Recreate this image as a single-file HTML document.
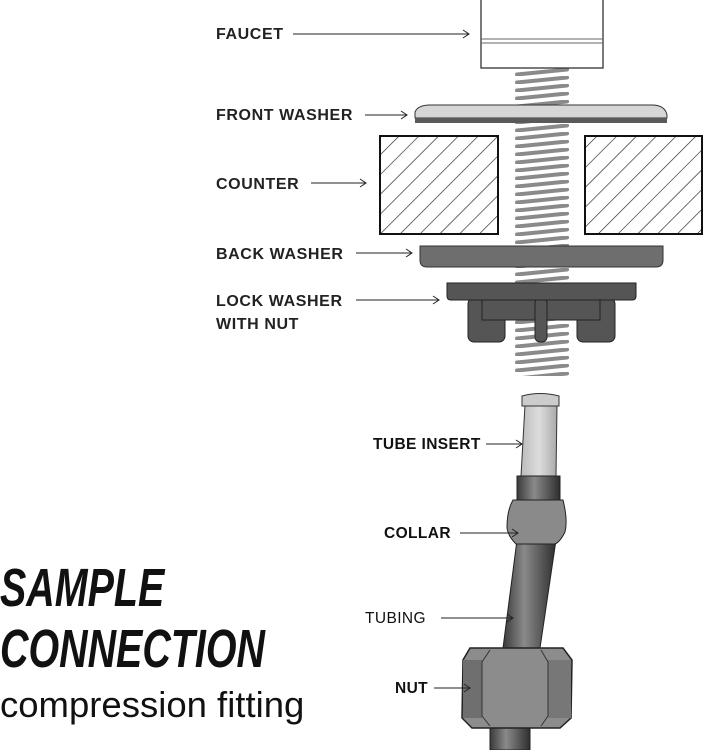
<!DOCTYPE html>
<html><head><style>
body{margin:0;background:#fff;width:705px;height:750px;overflow:hidden}
</style></head><body>
<svg width="705" height="750" viewBox="0 0 705 750" xmlns="http://www.w3.org/2000/svg" font-family="Liberation Sans, sans-serif">
<defs>
<pattern id="th" x="514" y="68" width="56" height="8" patternUnits="userSpaceOnUse"><path d="M3 6.5 L53 1.5" stroke="#8a8a8a" stroke-width="4" stroke-linecap="round"/></pattern>
<pattern id="hatch" width="14" height="14" patternUnits="userSpaceOnUse" patternTransform="rotate(45)"><line x1="0" y1="0" x2="0" y2="14" stroke="#222" stroke-width="1.3"/></pattern>
<linearGradient id="tube" x1="0" x2="1"><stop offset="0" stop-color="#3a3a3a"/><stop offset="0.4" stop-color="#8a8a8a"/><stop offset="1" stop-color="#2e2e2e"/></linearGradient>
<linearGradient id="ins" x1="0" x2="1"><stop offset="0" stop-color="#bbb"/><stop offset="0.5" stop-color="#ddd"/><stop offset="1" stop-color="#aaa"/></linearGradient>
</defs>
<rect x="514" y="68" width="56" height="308" fill="url(#th)"/>
<rect x="481" y="-2" width="122" height="70" fill="#fff" stroke="#333" stroke-width="1.3"/>
<line x1="481" y1="39" x2="603" y2="39" stroke="#666"/><line x1="481" y1="43" x2="603" y2="43" stroke="#666"/>
<path d="M415 118 L415 112 Q418 105 430 105 L652 105 Q665 105 667 115 L667 118 Z" fill="#d6d6d6" stroke="#333"/>
<rect x="415" y="118" width="252" height="5" fill="#5a5a5a"/>
<rect x="380" y="136" width="118" height="98" fill="#fff"/>
<rect x="380" y="136" width="118" height="98" fill="url(#hatch)" stroke="#111" stroke-width="2"/>
<rect x="585" y="136" width="117" height="98" fill="#fff"/>
<rect x="585" y="136" width="117" height="98" fill="url(#hatch)" stroke="#111" stroke-width="2"/>
<path d="M420 246 H663 V260 Q663 267 656 267 H427 Q420 267 420 260 Z" fill="#6e6e6e" stroke="#333"/>
<rect x="468" y="298" width="37" height="44" rx="6" fill="#555" stroke="#222"/>
<rect x="577" y="298" width="38" height="44" rx="6" fill="#555" stroke="#222"/>
<rect x="482" y="298" width="118" height="22" fill="#555" stroke="#222"/>
<rect x="535" y="298" width="12" height="44" rx="5" fill="#555" stroke="#222"/>
<path d="M447 283 H636 V296 Q636 300 632 300 H451 Q447 300 447 296 Z" fill="#555" stroke="#222"/>
<g font-size="16" font-weight="bold" fill="#222" letter-spacing="0.6">
<text x="216" y="39">FAUCET</text>
<text x="216" y="120">FRONT WASHER</text>
<text x="216" y="189">COUNTER</text>
<text x="216" y="259">BACK WASHER</text>
<text x="216" y="306">LOCK WASHER</text>
<text x="216" y="329">WITH NUT</text>
</g>
<g stroke="#222" fill="none" stroke-width="1">
<path d="M293 34 H469 M463 30 L469 34 L463 38"/>
<path d="M365 115 H407 M401 111 L407 115 L401 119"/>
<path d="M311 183 H366 M360 179 L366 183 L360 187"/>
<path d="M356 253 H412 M406 249 L412 253 L406 257"/>
<path d="M356 300 H439 M433 296 L439 300 L433 304"/>
</g>
<rect x="490" y="720" width="40" height="30" fill="url(#tube)" stroke="#222"/>
<path d="M517 540 L556 540 L540 648 L503 648 Z" fill="url(#tube)" stroke="#222"/>
<path d="M525 405 L557 405 L556 476 L521 476 Z" fill="url(#ins)" stroke="#333"/>
<path d="M522 396 Q540 391 559 396 L559 406 L522 406 Z" fill="#ccc" stroke="#333"/>
<rect x="517" y="476" width="43" height="26" fill="url(#tube)" stroke="#222"/>
<path d="M513 500 L563 500 Q568 520 565 532 Q560 542 555 544 L516 544 Q508 536 507 528 Q507 510 513 500 Z" fill="#8a8a8a" stroke="#222"/>
<path d="M470 648 L563 648 L572 660 L571 718 L560 728 L472 728 L462 718 L463 660 Z" fill="#8c8c8c" stroke="#222" stroke-width="1.5"/>
<rect x="463" y="660" width="19" height="58" fill="#6f6f6f"/><rect x="548" y="660" width="23" height="58" fill="#777"/>
<path d="M490 650 L482 662 L482 716 L490 726 M541 650 L548 662 L548 716 L541 726" stroke="#333" fill="none"/>
<g font-size="15.5" font-weight="bold" fill="#111" letter-spacing="0.4">
<text x="373" y="449">TUBE INSERT</text>
<text x="384" y="538">COLLAR</text>
<text x="365" y="623" font-weight="normal">TUBING</text>
<text x="395" y="693">NUT</text>
</g>
<g stroke="#222" fill="none" stroke-width="1">
<path d="M486 444 H522 M516 440 L522 444 L516 448"/>
<path d="M460 533 H518 M512 529 L518 533 L512 537"/>
<path d="M441 618 H513 M507 614 L513 618 L507 622"/>
<path d="M434 688 H470 M464 684 L470 688 L464 692"/>
</g>
<g font-weight="bold" font-style="italic" fill="#111" font-size="54" transform="scale(0.73,1)">
<text x="0" y="606">SAMPLE</text>
<text x="0" y="667">CONNECTION</text>
</g>
<text x="0" y="717" font-size="36.5" fill="#111">compression fitting</text>
</svg>
</body></html>
